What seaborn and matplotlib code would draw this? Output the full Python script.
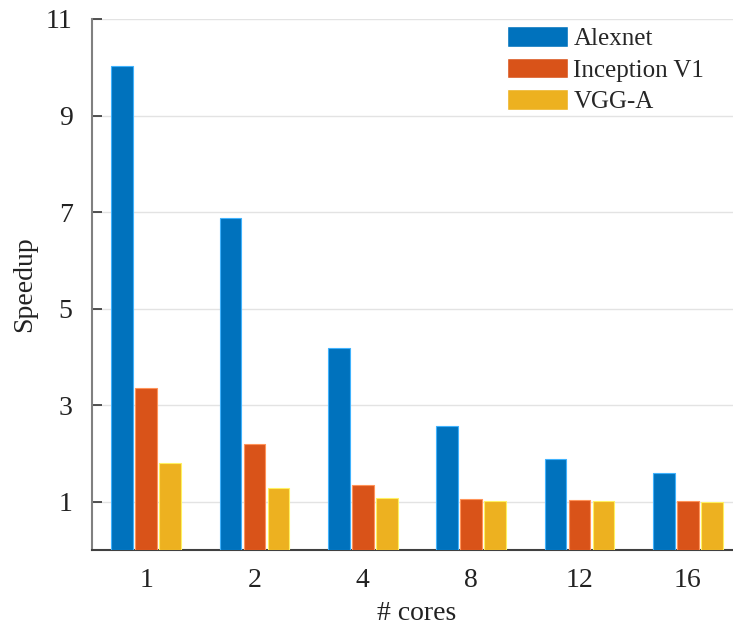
import pandas as pd
import matplotlib.pyplot as plt
import matplotlib.colors as mcolors
import seaborn as sns

# speedup per core count
cores = ["1", "2", "4", "8", "12", "16"]
alexnet = [10.02, 6.88, 4.19, 2.56, 1.89, 1.60]
inception = [3.36, 2.20, 1.35, 1.06, 1.03, 1.02]
vgg = [1.80, 1.29, 1.07, 1.02, 1.01, 1.00]
models = ["Alexnet", "Inception V1", "VGG-A"]
colors = ["#0072BD", "#D95319", "#EDB120"]

df = pd.DataFrame({
    "cores": cores * 3,
    "speedup": alexnet + inception + vgg,
    "model": [m for m in models for _ in cores],
})

sns.set_style("white")
plt.rcParams["font.family"] = ["Liberation Serif", "DejaVu Serif"]

fig = plt.figure(figsize=(7.33, 6.26), dpi=100)
ax = fig.add_axes([92 / 733, 76 / 626, 650 / 733, 531 / 626])

sns.barplot(data=df, x="cores", y="speedup", hue="model", order=cores,
            hue_order=models, palette=colors, width=0.663, gap=0.1,
            saturation=1, ax=ax, zorder=3)

# lighter edge around bars, like the matlab look
for cont, c in zip(ax.containers, colors):
    light = [min(1, v + 0.25) for v in mcolors.to_rgb(c)]
    for p in cont:
        p.set_edgecolor(light)
        p.set_linewidth(0.8)

ax.set_ylim(0, 11)
ax.set_xlim(-0.5, 5.5)
ax.set_yticks([1, 3, 5, 7, 9, 11])
ax.yaxis.grid(True, color="#e3e3e3", linewidth=1, zorder=0)
ax.set_axisbelow(True)

for s in ["top", "right"]:
    ax.spines[s].set_visible(False)
ax.spines["left"].set_color("#808080")
ax.spines["left"].set_linewidth(1.5)
ax.spines["bottom"].set_color("#404040")
ax.spines["bottom"].set_linewidth(1.5)

ax.tick_params(axis="both", direction="in", length=7, width=1.2,
               bottom=True, left=True, zorder=5,
               color="#333333", labelsize=20, labelcolor="#222222")
ax.tick_params(axis="x", pad=13)
ax.tick_params(axis="y", pad=14)

ax.set_xlabel("# cores", fontsize=20, color="#222222", labelpad=6)
ax.set_ylabel("Speedup", fontsize=20, color="#222222", labelpad=6)

ax.legend(loc="upper left", bbox_to_anchor=(507 / 733, 1 - 26 / 626),
          bbox_transform=fig.transFigure, frameon=False, fontsize=18,
          handlelength=2.45, handleheight=0.9, labelspacing=0.3,
          handletextpad=0.2, borderpad=0, borderaxespad=0)

plt.savefig("out.png")
